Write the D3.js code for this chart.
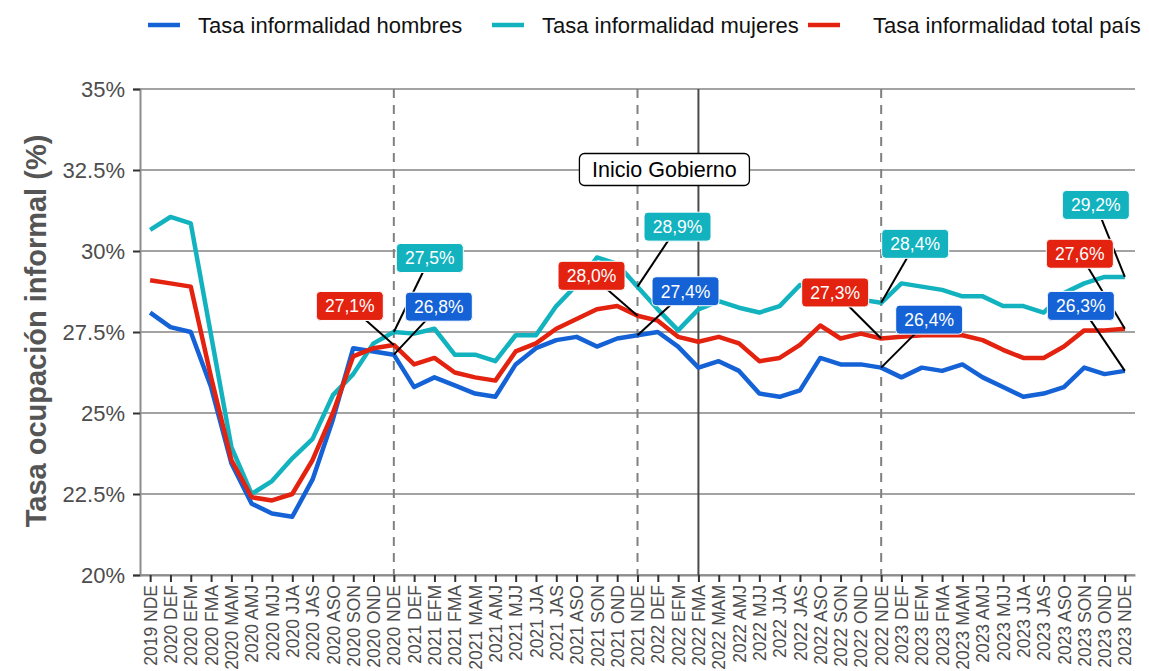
<!DOCTYPE html>
<html lang="es">
  <head>
    <meta charset="UTF-8" />
    <title>Tasa de ocupación informal</title>
    <script src="https://d3js.org/d3.v7.min.js"></script>
    <style>
      body {
        margin: 0;
        background: #fff;
        font-family: "Liberation Sans", Arial, sans-serif;
      }
    </style>
  </head>
  <body>
    <div id="chart"></div>
    <script>
      // trimestres moviles
      const periods = [
        "2019 NDE", "2020 DEF", "2020 EFM", "2020 FMA", "2020 MAM", "2020 AMJ", "2020 MJJ",
        "2020 JJA", "2020 JAS", "2020 ASO", "2020 SON", "2020 OND", "2020 NDE",
        "2021 DEF", "2021 EFM", "2021 FMA", "2021 MAM", "2021 AMJ", "2021 MJJ",
        "2021 JJA", "2021 JAS", "2021 ASO", "2021 SON", "2021 OND", "2021 NDE",
        "2022 DEF", "2022 EFM", "2022 FMA", "2022 MAM", "2022 AMJ", "2022 MJJ",
        "2022 JJA", "2022 JAS", "2022 ASO", "2022 SON", "2022 OND", "2022 NDE",
        "2023 DEF", "2023 EFM", "2023 FMA", "2023 MAM", "2023 AMJ", "2023 MJJ",
        "2023 JJA", "2023 JAS", "2023 ASO", "2023 SON", "2023 OND", "2023 NDE"
      ];

      const hombres = [
        28.1, 27.65, 27.5, 25.8, 23.45, 22.2, 21.9, 21.8, 22.95, 24.8, 27.0, 26.9, 26.8,
        25.8, 26.1, 25.85, 25.6, 25.5, 26.5, 27.0, 27.25, 27.35, 27.05, 27.3, 27.4,
        27.5, 27.05, 26.4, 26.6, 26.3, 25.6, 25.5, 25.7, 26.7, 26.5, 26.5, 26.4,
        26.1, 26.4, 26.3, 26.5, 26.1, 25.8, 25.5, 25.6, 25.8, 26.4, 26.2, 26.3
      ];

      const mujeres = [
        30.65, 31.05, 30.85, 27.4, 23.95, 22.5, 22.9, 23.6, 24.2, 25.55, 26.2, 27.15, 27.5,
        27.45, 27.6, 26.8, 26.8, 26.6, 27.4, 27.4, 28.3, 28.95, 29.8, 29.6, 28.9,
        28.2, 27.55, 28.2, 28.45, 28.25, 28.1, 28.3, 28.95, 28.8, 28.6, 28.5, 28.4,
        29.0, 28.9, 28.8, 28.6, 28.6, 28.3, 28.3, 28.1, 28.7, 29.0, 29.2, 29.2
      ];

      const total = [
        29.1, 29.0, 28.9, 26.1, 23.55, 22.4, 22.3, 22.5, 23.55, 25.0, 26.75, 27.0, 27.1,
        26.5, 26.7, 26.25, 26.1, 26.0, 26.9, 27.15, 27.6, 27.9, 28.2, 28.3, 28.0,
        27.85, 27.35, 27.2, 27.35, 27.15, 26.6, 26.7, 27.1, 27.7, 27.3, 27.45, 27.3,
        27.35, 27.4, 27.4, 27.4, 27.25, 26.95, 26.7, 26.7, 27.05, 27.55, 27.55, 27.6
      ];

      const seriesNames = [
        "Tasa informalidad hombres",
        "Tasa informalidad mujeres",
        "Tasa informalidad total país"
      ];
      const seriesColors = ["#1462d6", "#12b3bf", "#e3220f"];

      const yTicks = [20, 22.5, 25, 27.5, 30, 32.5, 35];
      const markedPeriods = ["2020 NDE", "2021 NDE", "2022 NDE", "2023 NDE"];
      const dashedPeriods = ["2020 NDE", "2021 NDE", "2022 NDE"];
      const govStart = "2022 FMA";
      const govLabel = "Inicio Gobierno";

      // label offsets (px) from the point, per marked period: [hombres, mujeres, total]
      const labelOffsets = [
        [[45, -48], [36, -74], [-44, -39]],
        [[48, -44], [40, -60], [-46, -40]],
        [[48, -48], [34, -59], [-46, -46]],
        [[-44, -65], [-29, -72], [-45, -75]]
      ];
      // legend key start x for each item
      const legendKeyX = [148, 492, 808];

      const width = 1149;
      const height = 671;
      const mLeft = 140, mRight = 1135, mTop = 89, mBottom = 575;
      const font = "'Liberation Sans', Arial, sans-serif";

      const svg = d3
        .select("#chart")
        .append("svg")
        .attr("width", width)
        .attr("height", height)
        .style("font-family", font);

      const x = d3.scalePoint().domain(periods).range([mLeft, mRight]).padding(0.5);
      const y = d3.scaleLinear().domain([20, 35]).range([mBottom, mTop]);

      // grid
      svg
        .append("g")
        .selectAll("line")
        .data(yTicks)
        .join("line")
        .attr("x1", mLeft)
        .attr("x2", mRight)
        .attr("y1", (d) => y(d))
        .attr("y2", (d) => y(d))
        .attr("stroke", "#a3a3a3")
        .attr("stroke-width", 2);

      // axes
      const yAxis = svg
        .append("g")
        .attr("transform", `translate(${mLeft},0)`)
        .call(
          d3.axisLeft(y).tickValues(yTicks).tickSize(7).tickPadding(8)
            .tickFormat((d) => d + "%")
        );
      yAxis.select(".domain").attr("stroke", "#8c8c8c").attr("stroke-width", 2);
      yAxis.selectAll(".tick line").attr("stroke", "#333").attr("stroke-width", 2);
      yAxis
        .selectAll(".tick text")
        .attr("fill", "#4d4d4d")
        .style("font-size", "22px")
        .style("font-family", font);

      const xAxis = svg
        .append("g")
        .attr("transform", `translate(0,${mBottom})`)
        .call(d3.axisBottom(x).tickSize(7).tickSizeOuter(0));
      xAxis.select(".domain").attr("stroke", "#8c8c8c").attr("stroke-width", 2);
      xAxis.selectAll(".tick line").attr("stroke", "#333").attr("stroke-width", 2);
      xAxis
        .selectAll(".tick text")
        .attr("fill", "#4d4d4d")
        .style("font-size", "17.5px")
        .style("font-family", font)
        .attr("text-anchor", "end")
        .attr("transform", "translate(0,10) rotate(-90)")
        .attr("x", 0)
        .attr("y", 0)
        .attr("dy", "0.35em");

      // reference lines
      svg
        .append("g")
        .selectAll("line")
        .data(dashedPeriods)
        .join("line")
        .attr("x1", (d) => x(d))
        .attr("x2", (d) => x(d))
        .attr("y1", mTop)
        .attr("y2", mBottom)
        .attr("stroke", "#808080")
        .attr("stroke-width", 2)
        .attr("stroke-dasharray", "9,7");

      svg
        .append("line")
        .attr("x1", x(govStart))
        .attr("x2", x(govStart))
        .attr("y1", mTop)
        .attr("y2", mBottom)
        .attr("stroke", "#4a4a4a")
        .attr("stroke-width", 2);

      // lines
      const data = [hombres, mujeres, total];
      const line = d3
        .line()
        .x((d, i) => x(periods[i]))
        .y((d) => y(d));

      svg
        .append("g")
        .selectAll("path")
        .data(data)
        .join("path")
        .attr("d", line)
        .attr("fill", "none")
        .attr("stroke", (d, i) => seriesColors[i])
        .attr("stroke-width", 4.5)
        .attr("stroke-linejoin", "round");

      // value labels
      const fmt = (v) => v.toFixed(1).replace(".", ",") + "%";
      const labels = [];
      markedPeriods.forEach((p, k) => {
        const idx = periods.indexOf(p);
        data.forEach((s, j) => {
          labels.push({
            px: x(p),
            py: y(s[idx]),
            cx: x(p) + labelOffsets[k][j][0],
            cy: y(s[idx]) + labelOffsets[k][j][1],
            text: fmt(s[idx]),
            color: seriesColors[j]
          });
        });
      });

      const lab = svg.append("g");
      lab
        .selectAll("line")
        .data(labels)
        .join("line")
        .attr("x1", (d) => d.px)
        .attr("y1", (d) => d.py)
        .attr("x2", (d) => d.cx)
        .attr("y2", (d) => d.cy)
        .attr("stroke", "#000")
        .attr("stroke-width", 2);

      const boxes = lab.selectAll("g.lbl").data(labels).join("g").attr("class", "lbl");
      boxes
        .append("rect")
        .attr("x", (d) => d.cx - 33.5)
        .attr("y", (d) => d.cy - 14.5)
        .attr("width", 67)
        .attr("height", 29)
        .attr("rx", 4)
        .attr("fill", (d) => d.color)
        .attr("stroke", "#fff")
        .attr("stroke-width", 1);
      boxes
        .append("text")
        .attr("x", (d) => d.cx)
        .attr("y", (d) => d.cy)
        .attr("dy", "0.36em")
        .attr("text-anchor", "middle")
        .attr("fill", "#fff")
        .style("font-size", "17.5px")
        .text((d) => d.text);

      // gov label
      const gx = x(govStart) - 34, gy = 169.5;
      svg
        .append("rect")
        .attr("x", gx - 85)
        .attr("y", gy - 16)
        .attr("width", 170)
        .attr("height", 32)
        .attr("rx", 5)
        .attr("fill", "#fff")
        .attr("stroke", "#000")
        .attr("stroke-width", 1.3);
      svg
        .append("text")
        .attr("x", gx)
        .attr("y", gy)
        .attr("dy", "0.36em")
        .attr("text-anchor", "middle")
        .attr("fill", "#000")
        .style("font-size", "21.5px")
        .text(govLabel);

      // y title
      svg
        .append("text")
        .attr("transform", `translate(36,${(mTop + mBottom) / 2 - 1}) rotate(-90)`)
        .attr("text-anchor", "middle")
        .attr("dy", "0.36em")
        .attr("fill", "#555")
        .style("font-size", "29px")
        .style("font-weight", "bold")
        .text("Tasa ocupación informal (%)");

      // legend
      const legend = svg.append("g");
      seriesNames.forEach((name, i) => {
        const lx = legendKeyX[i];
        legend
          .append("line")
          .attr("x1", lx)
          .attr("x2", lx + 32)
          .attr("y1", 25)
          .attr("y2", 25)
          .attr("stroke", seriesColors[i])
          .attr("stroke-width", 4.5);
        legend
          .append("text")
          .attr("x", lx + (i === 2 ? 65 : 50))
          .attr("y", 25)
          .attr("dy", "0.36em")
          .attr("fill", "#111")
          .style("font-size", "22px")
          .text(name);
      });
    </script>
  </body>
</html>
